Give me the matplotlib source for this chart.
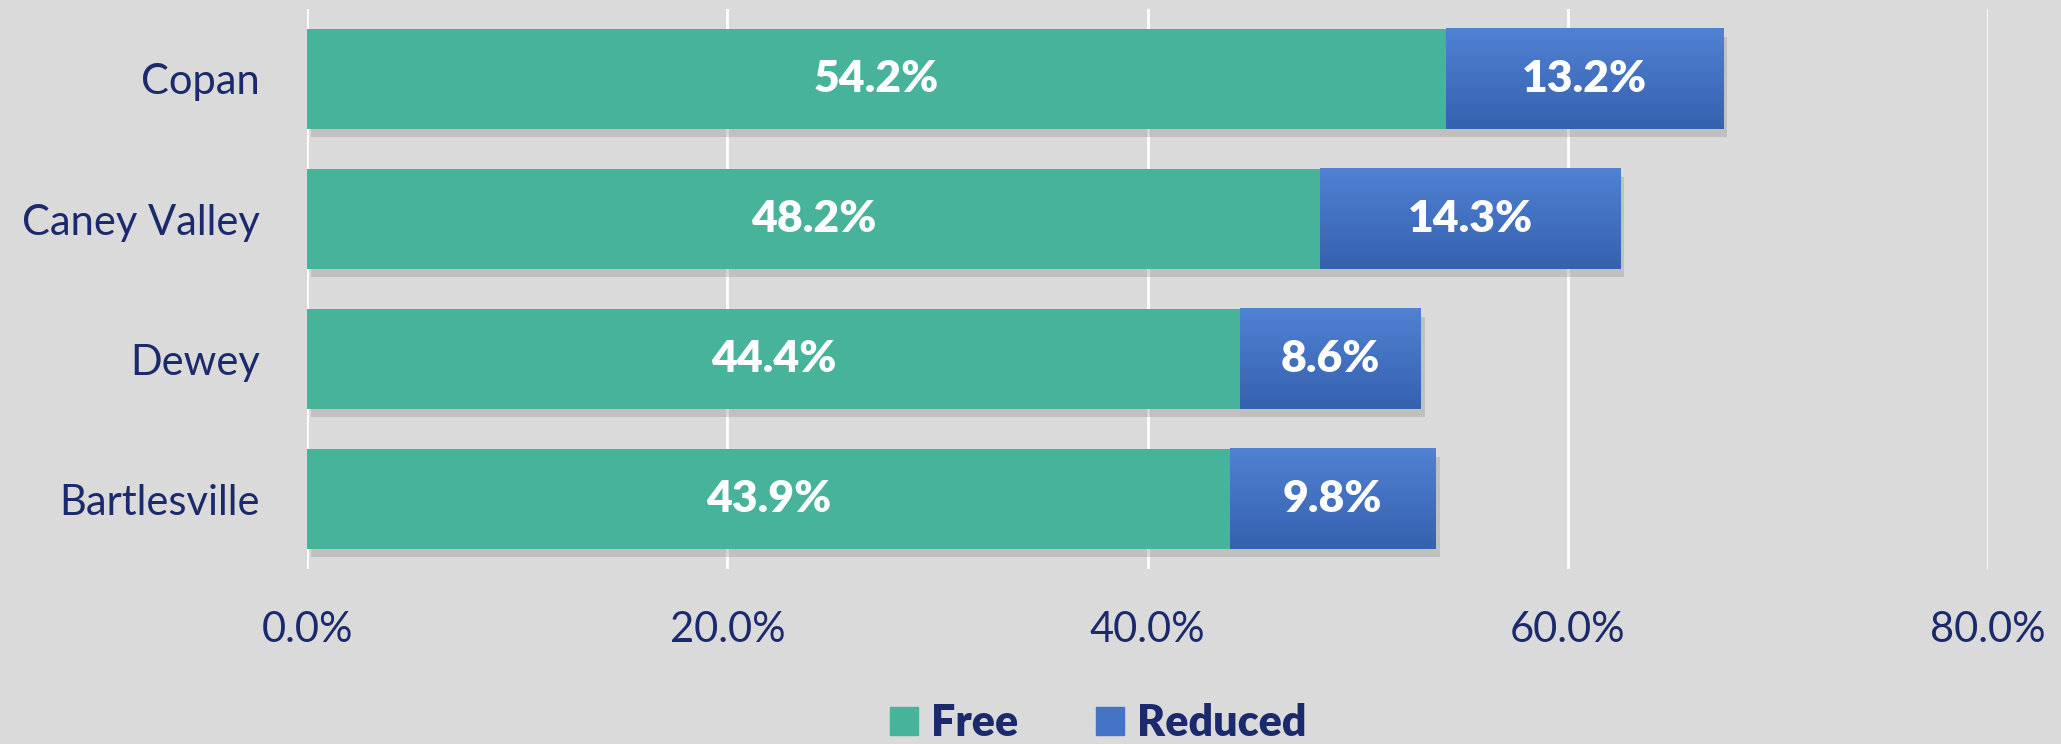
import numpy as np
import matplotlib.pyplot as plt
import matplotlib.patheffects as pe
from matplotlib.colors import LinearSegmentedColormap
from matplotlib.patches import Patch

districts = ['Copan', 'Caney Valley', 'Dewey', 'Bartlesville']
free = [54.2, 48.2, 44.4, 43.9]
reduced = [13.2, 14.3, 8.6, 9.8]
xticks = [0, 20, 40, 60, 80]

navy = '#1B2A6C'
green = '#47B39A'
blue_top = '#5181D3'
blue_bot = '#3562AF'
bg = '#DADADA'

plt.rcParams['font.family'] = ['Lato', 'DejaVu Sans']

fig = plt.figure(figsize=(20.61, 7.44), dpi=100, facecolor=bg)
ax = fig.add_axes([0.149, 0.235, 0.8156, 0.753])
ax.set_facecolor(bg)

y = np.arange(len(districts))
shadow = [pe.SimplePatchShadow(offset=(3, -6), shadow_rgbFace='#909090', alpha=0.35), pe.Normal()]

bars_free = ax.barh(y, free, height=0.714, color=green, zorder=3)
bars_red = ax.barh(y, reduced, left=free, height=0.714, color=blue_top, zorder=3)
for b in list(bars_free) + list(bars_red):
    b.set_path_effects(shadow)

# vertical gradient on the reduced bars
cmap = LinearSegmentedColormap.from_list('blue', [blue_top, blue_bot])
grad = np.linspace(0, 1, 100).reshape(-1, 1)
for b in bars_red:
    x0, y0, w, h = b.get_x(), b.get_y(), b.get_width(), b.get_height()
    ax.imshow(grad, cmap=cmap, aspect='auto', extent=[x0, x0 + w, y0 + h, y0],
              zorder=4, interpolation='bilinear')

for i in range(len(districts)):
    ax.text(free[i] / 2, y[i], f'{free[i]:.1f}%', ha='center', va='center',
            color='white', fontsize=32, fontweight='heavy', zorder=5)
    ax.text(free[i] + reduced[i] / 2, y[i], f'{reduced[i]:.1f}%', ha='center', va='center',
            color='white', fontsize=32, fontweight='heavy', zorder=5)

ax.set_xlim(0, 80)
ax.set_ylim(len(districts) - 0.5, -0.5)
ax.set_xticks(xticks)
ax.set_xticklabels([f'{t:.1f}%' for t in xticks])
ax.set_yticks(y)
ax.set_yticklabels(districts)
ax.tick_params(axis='both', length=0, labelsize=30, labelcolor=navy)
ax.tick_params(axis='x', pad=30)
ax.tick_params(axis='y', pad=34)
ax.grid(axis='x', color='white', linewidth=2, zorder=0)
ax.set_axisbelow(True)
for s in ax.spines.values():
    s.set_visible(False)

handles = [Patch(color=green, label='Free'), Patch(color='#4472C4', label='Reduced')]
leg = fig.legend(handles=handles, loc='center', bbox_to_anchor=(0.533, 0.028), ncol=2,
                 frameon=False, fontsize=31, handlelength=0.65, handleheight=0.65,
                 columnspacing=1.8, handletextpad=0.3)
for t in leg.get_texts():
    t.set_color(navy)
    t.set_fontweight('heavy')

fig.savefig('out.png', dpi=100, facecolor=bg)
